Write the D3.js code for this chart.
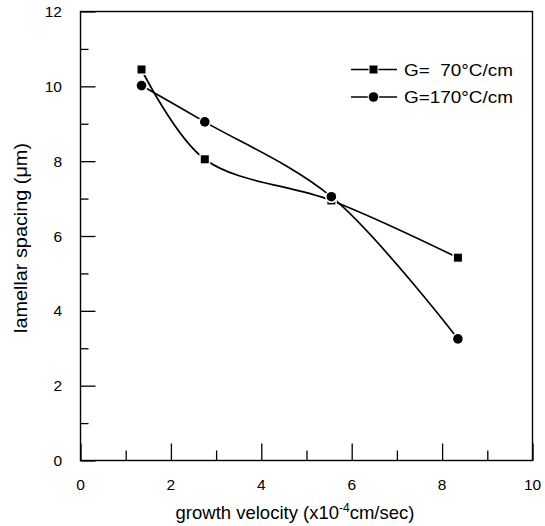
<!DOCTYPE html>
<html><head><meta charset="utf-8">
<script src="https://cdn.jsdelivr.net/npm/d3@7"></script>
<style>body{margin:0;background:#fff}svg{display:block}text{font-family:"Liberation Sans",Arial,sans-serif;fill:#000}</style>
</head><body><svg id="c" width="545" height="526"></svg>
<script>
const velocity = [1.35, 2.75, 5.55, 8.35];
const spacing70 = [10.45, 8.05, 6.95, 5.42];
const spacing170 = [10.02, 9.05, 7.05, 3.25];
const seriesNames = ["G=  70\u00B0C/cm", "G=170\u00B0C/cm"];
const xTicks = [0, 2, 4, 6, 8, 10];
const yTicks = [0, 2, 4, 6, 8, 10, 12];

const svg = d3.select("#c");
const L = 80.5, R = 532.5, T = 11.5, B = 460.5;
const x = d3.scaleLinear().domain([0, 10]).range([L, R]);
const y = d3.scaleLinear().domain([0, 12]).range([B, T]);

// frame
svg.append("rect").attr("x", L).attr("y", T).attr("width", R - L).attr("height", B - T)
  .attr("fill", "none").attr("stroke", "#000").attr("stroke-width", 1.4);

// x axis ticks (inward)
const xAx = svg.append("g").attr("transform", `translate(0,${B})`)
  .call(d3.axisTop(x).tickValues(d3.range(0, 10.01, 1)).tickSize(10).tickFormat(""));
xAx.select(".domain").remove();
xAx.selectAll(".tick line").attr("stroke-width", 1.3).attr("y2", d => d % 2 === 0 ? -17 : -10);
svg.append("g").selectAll("text").data(xTicks).join("text")
  .attr("x", d => x(d)).attr("y", 490).attr("text-anchor", "middle")
  .attr("font-size", 15.5).text(d => d);

// y axis ticks (inward)
const yAx = svg.append("g").attr("transform", `translate(${L},0)`)
  .call(d3.axisRight(y).tickValues(d3.range(0, 12.01, 1)).tickSize(8).tickFormat(""));
yAx.select(".domain").remove();
yAx.selectAll(".tick line").attr("stroke-width", 1.3).attr("x2", d => d % 2 === 0 ? 15 : 8);
svg.append("g").selectAll("text").data(yTicks).join("text")
  .attr("x", 62).attr("y", d => y(d) + 5.5).attr("text-anchor", "end")
  .attr("font-size", 15.5).text(d => d);

// axis titles
svg.append("text").attr("x", 295).attr("y", 519).attr("text-anchor", "middle")
  .attr("font-size", 18.5)
  .html('growth velocity (x10<tspan dy="-7" font-size="12">-4</tspan><tspan dy="7">cm/sec)</tspan>');
svg.append("text").attr("transform", "translate(27,238) rotate(-90)").attr("text-anchor", "middle")
  .attr("font-size", 18).attr("textLength", 190).attr("lengthAdjust", "spacingAndGlyphs")
  .text("lamellar spacing (\u03BCm)");

// curves
const line = d3.line().x(d => x(d[0])).y(d => y(d[1])).curve(d3.curveCatmullRom.alpha(0.5));
const s70 = velocity.map((v, i) => [v, spacing70[i]]);
const s170 = velocity.map((v, i) => [v, spacing170[i]]);
[s70, s170].forEach(s => svg.append("path").attr("d", line(s)).attr("fill", "none")
  .attr("stroke", "#000").attr("stroke-width", 1.7));

// markers with white halo
svg.append("g").selectAll("rect").data(s70).join("rect")
  .attr("x", d => x(d[0]) - 4).attr("y", d => y(d[1]) - 4).attr("width", 8).attr("height", 8)
  .attr("fill", "#000").attr("stroke", "#fff").attr("stroke-width", 3).attr("paint-order", "stroke");
svg.append("g").selectAll("circle").data(s170).join("circle")
  .attr("cx", d => x(d[0])).attr("cy", d => y(d[1])).attr("r", 4.8)
  .attr("fill", "#000").attr("stroke", "#fff").attr("stroke-width", 3).attr("paint-order", "stroke");

// legend
const leg = svg.append("g");
[69.5, 97].forEach((ly, i) => {
  leg.append("line").attr("x1", 351).attr("x2", 397).attr("y1", ly).attr("y2", ly)
    .attr("stroke", "#000").attr("stroke-width", 1.6);
  if (i === 0) leg.append("rect").attr("x", 369.5).attr("y", ly - 4).attr("width", 8).attr("height", 8)
    .attr("fill", "#000").attr("stroke", "#fff").attr("stroke-width", 2).attr("paint-order", "stroke");
  else leg.append("circle").attr("cx", 373.5).attr("cy", ly).attr("r", 4.8)
    .attr("fill", "#000").attr("stroke", "#fff").attr("stroke-width", 2).attr("paint-order", "stroke");
  leg.append("text").attr("x", 404).attr("y", ly + 6).attr("font-size", 16.5)
    .attr("textLength", 109).attr("lengthAdjust", "spacingAndGlyphs")
    .attr("xml:space", "preserve").style("white-space", "pre").text(seriesNames[i]);
});
</script></body></html>
